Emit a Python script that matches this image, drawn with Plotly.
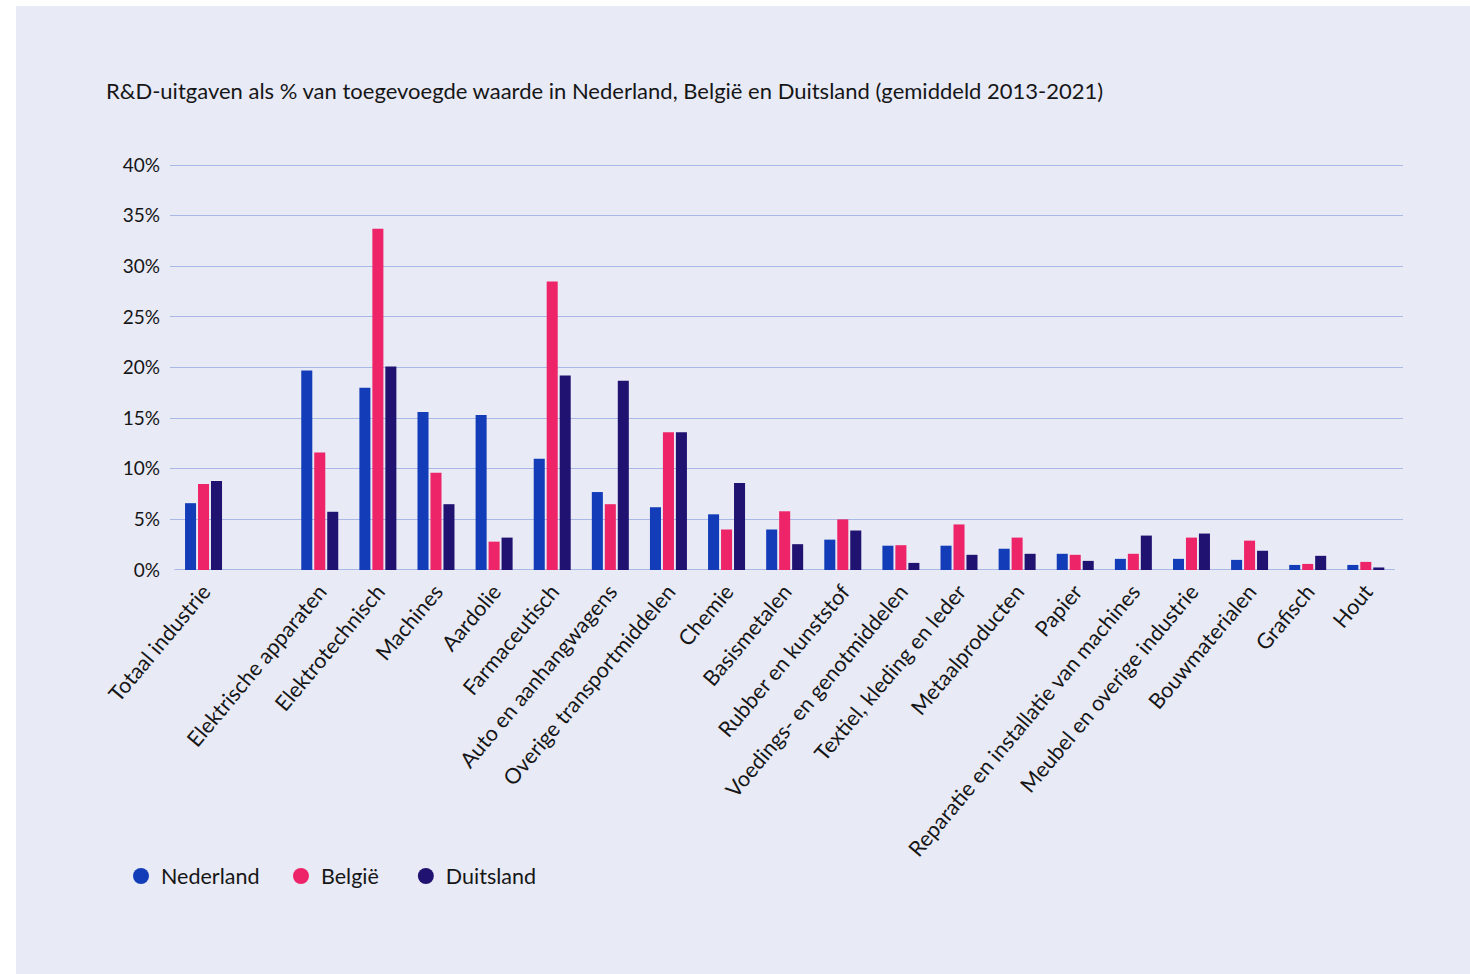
import plotly.graph_objects as go

categories = ["Totaal industrie", " ", "Elektrische apparaten", "Elektrotechnisch", "Machines",
              "Aardolie", "Farmaceutisch", "Auto en aanhangwagens", "Overige transportmiddelen",
              "Chemie", "Basismetalen", "Rubber en kunststof", "Voedings- en genotmiddelen",
              "Textiel, kleding en leder", "Metaalproducten", "Papier",
              "Reparatie en installatie van machines", "Meubel en overige industrie",
              "Bouwmaterialen", "Grafisch", "Hout"]

nederland = [6.6, None, 19.7, 18.0, 15.6, 15.3, 11.0, 7.7, 6.2, 5.5, 4.0, 3.0, 2.4, 2.4, 2.1, 1.6, 1.1, 1.1, 1.0, 0.5, 0.5]
belgie = [8.5, None, 11.6, 33.7, 9.6, 2.8, 28.5, 6.5, 13.6, 4.0, 5.8, 5.0, 2.45, 4.5, 3.2, 1.5, 1.6, 3.2, 2.9, 0.6, 0.8]
duitsland = [8.8, None, 5.75, 20.1, 6.5, 3.2, 19.2, 18.7, 13.6, 8.6, 2.55, 3.9, 0.7, 1.5, 1.6, 0.9, 3.4, 3.6, 1.9, 1.4, 0.25]

series = [("Nederland", nederland, "#133cb8", 3),
          ("België", belgie, "#ee2468", 4),
          ("Duitsland", duitsland, "#201271", 4)]

y_ticks = [0, 5, 10, 15, 20, 25, 30, 35, 40]
y_tick_labels = ["0%", "5%", "10%", "15%", "20%", "25%", "30%", "35%", "40%"]

FONT = "Lato"
BG = "#e8eaf6"
TXT = "#161616"

fig = go.Figure()
for name, vals, color, pad in series:
    fig.add_trace(go.Bar(x=categories, y=vals, name=name, marker_color=color,
                         marker_line_width=0, showlegend=False))
for name, vals, color, pad in series:
    fig.add_trace(go.Scatter(x=[None], y=[None], mode="markers", name=name + "\u00a0" * pad,
                             marker=dict(symbol="circle", size=20, color=color)))

W, H = 1470, 974
T, B, L, R = 163, 404, 170, 67
PW, PH = W - L - R, H - T - B
fig.update_layout(
    width=W, height=H,
    paper_bgcolor="white",
    plot_bgcolor="rgba(0,0,0,0)",
    margin=dict(l=L, r=R, t=T, b=B, autoexpand=False),
    barmode="group", bargap=0.33, bargroupgap=0.15,
    font=dict(family=FONT, color=TXT, size=18),
    title=dict(text="R&D-uitgaven als % van toegevoegde waarde in Nederland, België en Duitsland (gemiddeld 2013-2021)",
               x=106 / W, xanchor="left", y=1 - 91 / H, yanchor="middle",
               font=dict(family=FONT, size=22, color=TXT)),
    shapes=[dict(type="rect", xref="paper", yref="paper", layer="below",
                 x0=(16 - L) / PW, x1=(W - L) / PW,
                 y0=-B / PH, y1=1 + (T - 6) / PH,
                 fillcolor=BG, line_width=0),
            dict(type="line", xref="x", yref="y", x0=-0.5, x1=20.5, y0=0, y1=0,
                 line=dict(color="#a9b8e4", width=2), layer="below")],
    legend=dict(orientation="h", x=(121 - L) / PW, xanchor="left",
                y=1 - (876 - T) / PH, yanchor="middle",
                font=dict(family=FONT, size=21.5, color=TXT),
                bgcolor="rgba(0,0,0,0)", itemsizing="trace"),
)
fig.update_xaxes(type="category", range=[-0.577, 20.64], tickangle=-50,
                 showgrid=False, showline=False, zeroline=False, ticks="",
                 ticklabelstandoff=4,
                 tickfont=dict(family=FONT, size=21.5, color=TXT))
fig.update_yaxes(range=[0, 40.2], tickvals=y_ticks, ticktext=y_tick_labels,
                 showgrid=True, gridcolor="#a9b8e4", gridwidth=1, zeroline=False,
                 showline=False, ticks="", ticklabelstandoff=9,
                 tickfont=dict(family=FONT, size=19, color=TXT))

fig.write_html("out.html")
